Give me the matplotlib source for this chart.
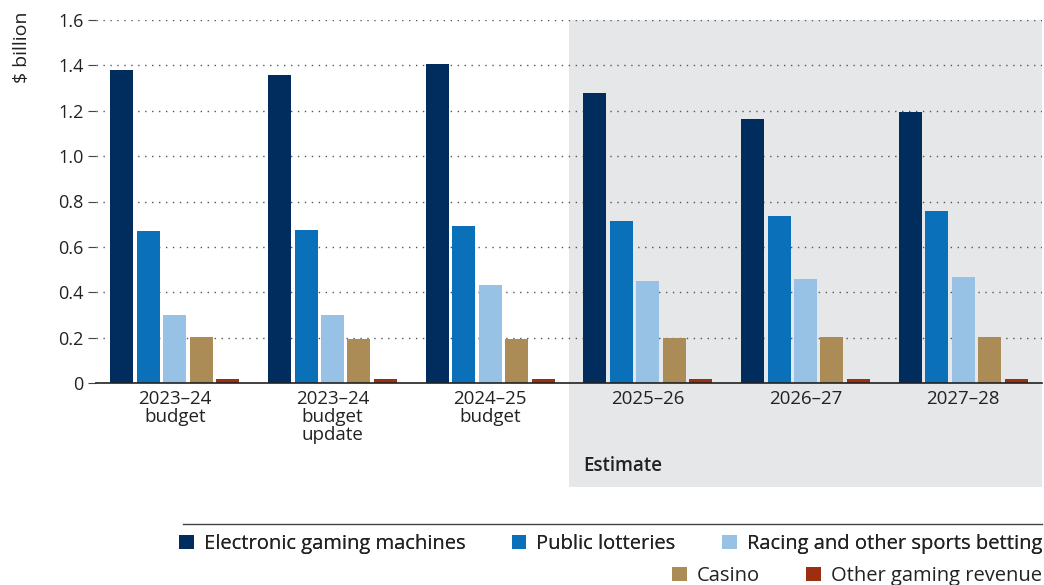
import matplotlib
matplotlib.use("Agg")
import matplotlib.pyplot as plt
import numpy as np
from matplotlib.patches import Patch
from matplotlib.lines import Line2D

plt.rcParams['font.family'] = ['Open Sans', 'DejaVu Sans']

categories = ["2023\u201324\nbudget", "2023\u201324\nbudget\nupdate", "2024\u201325\nbudget",
              "2025\u201326", "2026\u201327", "2027\u201328"]
series_names = ["Electronic gaming machines", "Public lotteries", "Racing and other sports betting",
                "Casino", "Other gaming revenue"]
egm = [1.379, 1.357, 1.406, 1.278, 1.163, 1.194]
lotteries = [0.670, 0.674, 0.692, 0.714, 0.736, 0.758]
racing = [0.300, 0.300, 0.432, 0.450, 0.458, 0.467]
casino = [0.203, 0.194, 0.194, 0.198, 0.203, 0.203]
other = [0.018, 0.018, 0.018, 0.018, 0.018, 0.018]
colors = ["#002d5e", "#0b70ba", "#97c2e6", "#ab8b56", "#9c2e12"]

fig = plt.figure(figsize=(10.44, 5.85), dpi=100)
ax = fig.add_axes([96/1044, 1-383/585, (1042-96)/1044, (383-20)/585])

x = np.arange(len(categories))
step = 26.5/158
width = 23/158
data = [egm, lotteries, racing, casino, other]
for i, (vals, c, name) in enumerate(zip(data, colors, series_names)):
    ax.bar(x + (i-2)*step, vals, width=width, color=c, label=name, zorder=3)

ax.set_xlim(-0.5, 5.5)
ax.set_ylim(0, 1.6)
ax.axvspan(2.5, 5.5, ymin=-104/363, ymax=1, color="#e6e7e9", clip_on=False, zorder=0, lw=0)

ax.set_yticks(np.arange(0, 1.61, 0.2))
ax.set_yticklabels(["0"] + [f"{v:.1f}" for v in np.arange(0.2, 1.61, 0.2)])
ax.yaxis.grid(True, linestyle=(0, (1, 4)), color="#555555", linewidth=1.0, zorder=1)
ax.set_axisbelow(True)
ax.set_xticks(x)
ax.set_xticklabels(categories, fontsize=13.5, color="#222222", linespacing=1.0)
ax.tick_params(axis='x', length=0, pad=5)
ax.tick_params(axis='y', length=6, width=0.8, color="#444444", labelsize=13, labelcolor="#222222", pad=3)
for s in ["top", "right", "left"]:
    ax.spines[s].set_visible(False)
ax.spines["bottom"].set_color("#222222")
ax.spines["bottom"].set_linewidth(1.2)
ax.spines["bottom"].set_zorder(4)
ax.patch.set_alpha(0)

fig.text(22/1044, 1-47/585, "$ billion", rotation=90, ha="center", va="center", fontsize=14, color="#222222")
ax.text(2.5 + 14/158, -0.365, "Estimate", ha="left", va="center", fontsize=13.5, fontweight="semibold", color="#222222")

# legend line
fig.add_artist(Line2D([183/1044, 1042/1044], [1-524/585, 1-524/585], color="#444444", lw=1.0))

handles = [Patch(facecolor=c, edgecolor='none') for c in colors]
kw = dict(frameon=False, fontsize=14.5, handlelength=0.72, handleheight=0.72, handletextpad=0.5,
          columnspacing=2.3, borderaxespad=0, borderpad=0)
leg1 = fig.legend(handles[:3], series_names[:3], loc="center right",
                  bbox_to_anchor=(1042/1044, 1-544/585), ncol=3, **kw)
for t in leg1.get_texts():
    t.set_color("#222222")
leg2 = fig.legend(handles[3:], series_names[3:], loc="center right",
                  bbox_to_anchor=(1042/1044, 1-576/585), ncol=2, **kw)
for t in leg2.get_texts():
    t.set_color("#222222")
fig.add_artist(leg1)

fig.savefig("out.png", dpi=100)
